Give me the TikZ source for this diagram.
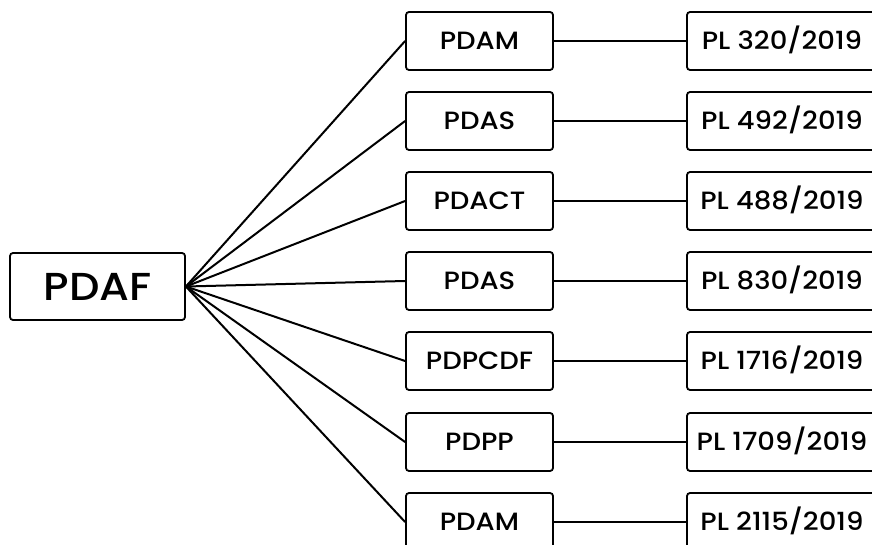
\documentclass[tikz,border=0pt]{standalone}
\usepackage{fontspec}
\setmainfont{Poppins}[UprightFont=* Medium,FakeStretch=1.1]

\begin{document}
\begin{tikzpicture}[x=1pt,y=-1pt,line width=2pt,
	block/.style={rectangle,draw,rounded corners=3pt,line width=1.8pt,minimum width=147pt,minimum height=58pt,inner sep=0pt,text height=17.5pt,text depth=0pt,font=\fontsize{25}{28}\selectfont},
	law/.style={block,minimum width=190pt}]
	\useasboundingbox (0,0) rectangle (872,545);
	% root
	\node[block,minimum width=175pt,minimum height=67pt,text height=27pt,font=\fontsize{39}{42}\selectfont] (pdaf) at (97.5,286.5) {PDAF};
	% programmes
	\node[block] (m1) at (479.5,41) {PDAM};
	\node[block] (m2) at (479.5,121) {PDAS};
	\node[block] (m3) at (479.5,201) {PDACT};
	\node[block] (m4) at (479.5,281) {PDAS};
	\node[block] (m5) at (479.5,361) {PDPCDF};
	\node[block] (m6) at (479.5,442) {PDPP};
	\node[block] (m7) at (479.5,522) {PDAM};
	% bills
	\node[law] (pl1) at (782,41) {PL 320/2019};
	\node[law] (pl2) at (782,121) {PL 492/2019};
	\node[law] (pl3) at (782,201) {PL 488/2019};
	\node[law] (pl4) at (782,281) {PL 830/2019};
	\node[law] (pl5) at (782,361) {PL 1716/2019};
	\node[law] (pl6) at (782,442) {PL 1709/2019};
	\node[law] (pl7) at (782,522) {PL 2115/2019};
	\draw (pdaf.east)--(m1.west);
	\draw (pdaf.east)--(m2.west);
	\draw (pdaf.east)--(m3.west);
	\draw (pdaf.east)--(m4.west);
	\draw (pdaf.east)--(m5.west);
	\draw (pdaf.east)--(m6.west);
	\draw (pdaf.east)--(m7.west);
	\draw (m1)--(pl1);
	\draw (m2)--(pl2);
	\draw (m3)--(pl3);
	\draw (m4)--(pl4);
	\draw (m5)--(pl5);
	\draw (m6)--(pl6);
	\draw (m7)--(pl7);
\end{tikzpicture}
\end{document}
